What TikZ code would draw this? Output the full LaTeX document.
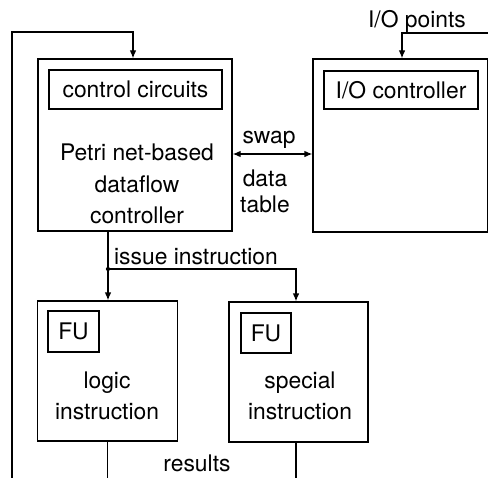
\documentclass[tikz,border=0pt]{standalone}
\usepackage{fontspec}
\setmainfont{TeX Gyre Heros}
\usetikzlibrary{arrows.meta}
\begin{document}
\begin{tikzpicture}[
	x=0.03cm, y=-0.03cm,
	line width=1.1pt,
	font=\fontsize{19.5pt}{27pt}\selectfont,
	unit/.style={rectangle,draw,inner sep=0pt},
	tag/.style={rectangle,draw,inner sep=0pt},
	txt/.style={inner sep=0pt,align=center},
	flow/.style={-{Latex[length=2.4mm,width=2mm]}},
	swapflow/.style={{Latex[length=2.4mm,width=2mm]}-{Latex[length=2.4mm,width=2mm]}},
	]
\useasboundingbox (0,0) rectangle (488,477);
% controller and I/O side
\node [unit,minimum width=5.82cm,minimum height=5.16cm] (pdc) at (135,145) {};
\node [tag,minimum width=5.19cm,minimum height=1.17cm] (cc) at (135.5,89.5) {control circuits};
\node [txt] (pdctext) at (137,184) {Petri net-based\\dataflow\\controller};
\node [unit,minimum width=5.25cm,minimum height=5.19cm] (ioc) at (400.5,145.5) {};
\node [tag,minimum width=4.62cm,minimum height=1.14cm] (iotag) at (401,90) {I/O controller};
% functional units
\node [unit,minimum width=4.2cm,minimum height=4.2cm] (logic) at (107.5,371) {};
\node [tag,minimum width=1.53cm,minimum height=1.23cm] (fulogic) at (73.5,331.5) {FU};
\node [txt] (logictext) at (107,396) {logic\\instruction};
\node [unit,minimum width=4.17cm,minimum height=4.2cm] (special) at (298.5,372) {};
\node [tag,minimum width=1.5cm,minimum height=1.2cm] (fuspecial) at (266,333) {FU};
\node [txt] (specialtext) at (300,396) {special\\instruction};
% labels
\node [txt] (iopoints) at (417,21) {I/O points};
\node [txt] (swap) at (269,140) {swap};
\node [txt,font=\fontsize{19.5pt}{22pt}\selectfont] (datatable) at (265,191) {data\\table};
\node [txt] (issuelabel) at (196,257) {issue instruction};
\node [txt] (results) at (197,463) {results};
% connectors
\coordinate (fbin) at (12,485);
\coordinate (fbturn) at (133,32);
\draw [flow] (fbin) |- (fbturn) -- (fbturn |- pdc.north);
\coordinate (iopin) at (492,33);
\coordinate (ioturn) at (402,33);
\draw [flow] (iopin) -- (ioturn) -- (ioturn |- ioc.north);
\coordinate (swapy) at (0,154);
\draw [swapflow] (pdc.east |- swapy) -- (ioc.west |- swapy);
\coordinate (issue) at (108,269);
\coordinate (specin) at ([xshift=-0.075cm]special.north);
\coordinate (specout) at ([xshift=-0.075cm]special.south);
\draw (issue |- pdc.south) -- (issue);
\fill (issue) circle [radius=1.8pt];
\draw [flow] (issue) -- (issue |- logic.north);
\draw [flow] (issue) -| (specin);
\coordinate (bottom) at (0,485);
\draw (logic.south) -- (logic.south |- bottom);
\draw (specout) -- (specout |- bottom);
\end{tikzpicture}
\end{document}
